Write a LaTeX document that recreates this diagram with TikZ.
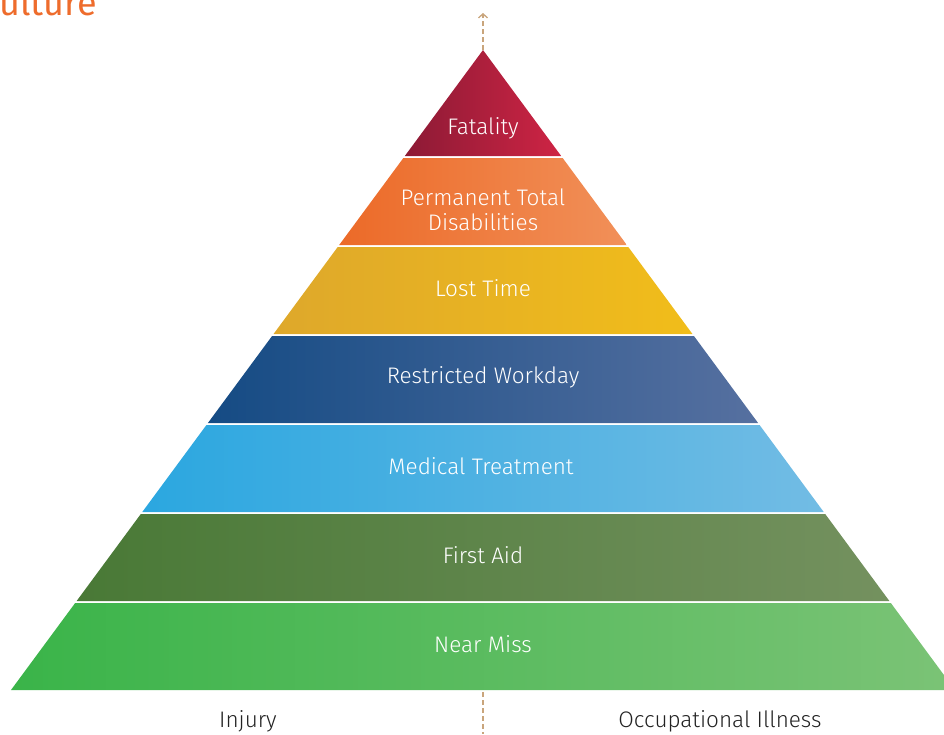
\documentclass[tikz,border=0pt]{standalone}
\usepackage{fontspec}
\setmainfont{Fira Sans Light}
\newfontfamily\titlefont{Fira Sans}
\usetikzlibrary{arrows.meta}
\definecolor{fatL}{HTML}{8C1A35}\definecolor{fatR}{HTML}{CE2444}
\definecolor{perL}{HTML}{EC6A28}\definecolor{perR}{HTML}{F19059}
\definecolor{losL}{HTML}{DEA82B}\definecolor{losR}{HTML}{F1BD1A}
\definecolor{resL}{HTML}{154B84}\definecolor{resR}{HTML}{5670A0}
\definecolor{medL}{HTML}{2BA7E0}\definecolor{medR}{HTML}{72BCE4}
\definecolor{firL}{HTML}{497936}\definecolor{firR}{HTML}{74915F}
\definecolor{nearL}{HTML}{3AB449}\definecolor{nearR}{HTML}{7BC376}
\definecolor{dashcol}{HTML}{C9A57C}
\definecolor{titleorange}{HTML}{EE6C2C}
\definecolor{labelgray}{HTML}{222222}
\tikzset{
  bandtext/.style={text=white, font=\fontsize{22.5}{26}\selectfont, align=center, inner sep=0pt},
  sidelabel/.style={text=labelgray, font=\fontsize{22.5}{26}\selectfont, inner sep=0pt},
  axisline/.style={draw=dashcol, line width=1.4pt, dash pattern=on 5pt off 3pt},
}
\begin{document}
\begin{tikzpicture}[x=1pt,y=-1pt]
\useasboundingbox (0,0) rectangle (944,734);
% slope of sides
\def\sl{0.7375}
% bands: top y, bottom y
\shade[left color=fatL, right color=fatR] (483,50) -- ({483+\sl*(156-50)},156) -- ({483-\sl*(156-50)},156) -- cycle;
\foreach \t/\b/\cl/\cr in {158/245/perL/perR, 247/334/losL/losR, 336/423/resL/resR, 425/512/medL/medR, 514/601/firL/firR, 603/690/nearL/nearR}{
  \shade[left color=\cl, right color=\cr]
    ({483-\sl*(\t-50)},\t) -- ({483+\sl*(\t-50)},\t) -- ({483+\sl*(\b-50)},\b) -- ({483-\sl*(\b-50)},\b) -- cycle;
}
% labels
\node[bandtext] (fat) at (483,128) {Fatality};
\node[bandtext] (per) at (483,210) {Permanent Total\\[-1pt]Disabilities};
\node[bandtext] (los) at (483,288) {Lost Time};
\node[bandtext] (res) at (483,377) {Restricted Workday};
\node[bandtext] (med) at (481,466) {Medical Treatment};
\node[bandtext] (fir) at (483,555) {First Aid};
\node[bandtext] (nea) at (483,644) {Near Miss};
\node[sidelabel] (inj) at (248,721) {Injury};
\node[sidelabel] (occ) at (720,721) {Occupational Illness};
% axis
\coordinate (apex) at (483,50);
\coordinate (arrtop) at (483,13);
\coordinate (basec) at (483,692);
\coordinate (bottom) at (483,734);
\draw[axisline, -{Straight Barb[length=4pt,width=9pt,line width=1.3pt]}] (apex) -- (arrtop);
\draw[axisline] (basec) -- (bottom);
% clipped title
\node[anchor=base west, inner sep=0pt, text=titleorange, font=\titlefont\fontsize{36}{42}\selectfont] (title) at (-1,15) {ulture};
\end{tikzpicture}
\end{document}
